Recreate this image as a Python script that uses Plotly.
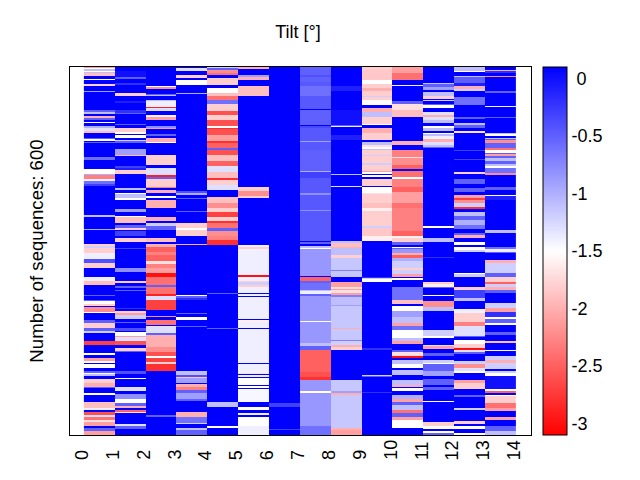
import numpy as np
import plotly.graph_objects as go

N_SEQ = 600
tick_labels = [str(i) for i in range(15)]
cb_vals = [0, -0.5, -1, -1.5, -2, -2.5, -3]
cb_text = ["\u00a00", "-0.5", "-1", "-1.5", "-2", "-2.5", "-3"]

# each column: (last sequence of the run, tilt value)
col_0 = [(2,-2.1),(4,-1.5),(6,-1.1),(8,-1.5),(10,-1.1),(14,-1.9),(20,.1),(22,-1.5),(27,.1),(31,-1.8),(39,.1),(41,-0.9),(70,.1),(73,-0.5),(77,-1.1),(80,.1),(83,-2.0),(87,-0.5),(90,.1),(92,-1.5),(96,.1),(100,-1.0),(104,-1.3),(108,-1.9),(116,.1),(118,-0.5),(120,-1.5),(122,.1),(124,-0.5),(146,.1),(151,-0.6),(167,.1),(174,-1.5),(176,-1.0),(183,-2.3),(186,-1.4),(191,-0.6),(194,-0.3),(241,.1),(244,-1.1),(264,.1),(266,-1.0),(288,.1),(292,-1.8),(295,-1.2),(304,-1.8),(313,-1.4),(319,-0.4),(327,-1.8),(342,.1),(349,-1.4),(355,-1.9),(371,.1),(373,-0.5),(380,.1),(382,-0.5),(386,-1.5),(390,-1.8),(392,.1),(399,-2.2),(401,-1.5),(412,.1),(418,-0.5),(426,-1.8),(431,-0.5),(434,-1.2),(447,.1),(453,-2.7),(456,.1),(457,-1.4),(466,.1),(469,-1.5),(475,.1),(479,-2.1),(483,-1.5),(484,.1),(491,-1.5),(495,.1),(499,-0.5),(501,-1.5),(503,-1.1),(508,.1),(515,-1.8),(521,-2.0),(523,-0.5),(532,.1),(534,-1.5),(547,.1),(556,-1.9),(560,-1.4),(563,.1),(568,-2.6),(571,-1.3),(575,-2.4),(579,-1.7),(586,-2.1),(589,.1),(594,-0.5),(600,-2.1)]
col_1 = [(7,.1),(16,0),(20,-0.5),(26,.1),(29,-0.2),(43,.1),(47,-1.8),(56,.1),(59,-0.1),(70,.1),(75,-0.2),(77,-0.5),(93,.1),(95,-0.5),(99,.1),(106,-1.8),(109,-1.5),(111,.1),(115,-1.5),(119,.1),(121,-1.2),(124,-0.5),(134,.1),(143,-0.9),(145,-1.9),(162,.1),(165,-0.3),(168,-0.1),(175,-1.8),(198,.1),(200,-1.1),(205,.1),(207,-1.5),(214,-1.1),(217,-1.5),(231,.1),(236,-0.9),(243,.1),(245,-1.5),(255,-1.9),(257,.1),(262,-0.5),(266,-1.8),(268,.1),(275,-0.3),(278,.1),(285,-1.8),(288,.1),(295,.1),(297,-0.3),(327,.1),(335,-0.8),(349,.1),(352,-1.8),(357,.1),(360,-0.5),(363,.1),(366,-0.5),(393,.1),(395,-0.2),(398,.1),(401,-1.8),(404,-2.1),(411,-1.2),(415,.1),(417,-0.5),(426,.1),(430,-0.4),(432,.1),(438,-1.5),(441,-2.1),(447,-1.3),(453,-2.6),(458,.1),(463,-1.8),(465,-0.5),(484,.1),(485,-0.5),(495,.1),(501,-0.4),(507,.1),(509,-1.5),(522,.1),(529,-1.3),(533,.1),(542,-0.8),(548,-1.5),(553,-0.5),(556,-2.0),(559,.1),(562,-2.5),(564,-1.7),(582,.1),(586,-1.3),(591,-0.5),(600,.1)]
col_2 = [(31,.1),(33,-1.5),(36,-2.2),(44,.1),(46,-0.5),(48,-1.1),(53,.1),(56,-1.1),(65,-1.4),(67,-2.9),(71,-1.3),(78,.1),(82,-1.4),(86,-2.1),(96,.1),(99,-0.8),(101,-2.1),(109,.1),(112,-0.5),(116,.1),(122,-2.0),(124,-1.5),(143,.1),(160,-1.8),(165,.1),(176,-1.3),(179,-2.9),(183,-0.5),(195,-1.8),(198,-2.3),(201,.1),(206,-2.0),(210,.1),(214,-1.5),(217,.1),(230,-2.0),(245,.1),(251,-2.0),(255,.1),(260,-1.2),(266,-0.5),(279,.1),(285,-1.9),(288,.1),(294,-2.0),(301,-2.5),(306,-2.3),(317,-2.5),(321,-1.7),(328,-2.3),(336,-2.1),(342,-3.0),(355,-2.4),(358,-0.5),(370,-2.4),(373,-2.9),(380,-1.3),(396,-2.7),(406,.1),(408,-2.2),(412,.1),(420,-2.4),(423,.1),(434,-1.3),(437,-0.5),(456,-2.0),(464,-2.2),(471,-2.6),(475,-1.5),(481,-2.7),(485,-1.8),(496,-2.8),(562,.1),(563,-1.2),(568,.1),(570,-0.5),(600,.1)]
col_3 = [(2,.1),(7,-1.3),(13,.1),(18,-1.8),(22,.1),(29,-1.5),(30,-3.0),(42,.1),(44,-1.0),(135,.1),(136,-0.2),(202,.1),(206,-0.4),(208,-1.0),(214,.1),(216,-0.5),(234,.1),(236,-0.5),(254,.1),(263,-1.8),(266,-1.5),(276,-1.8),(288,.1),(290,-2.0),(371,.1),(373,-1.5),(376,-0.5),(380,-0.2),(401,.1),(402,-0.5),(408,.1),(412,-1.5),(422,.1),(424,-0.5),(496,.1),(502,-1.1),(506,-0.4),(507,-1.9),(515,-0.9),(517,.1),(521,-2.0),(527,-2.3),(532,-0.5),(542,-0.9),(545,-0.5),(563,.1),(570,-2.0),(580,-0.6),(582,-1.2),(588,.1),(592,-1.1),(600,-0.5)]
col_4 = [(2,-1.2),(5,-0.5),(9,-2.2),(13,-2.4),(18,.1),(29,-1.8),(35,.1),(43,-1.5),(47,-1.9),(54,-2.4),(60,-0.6),(71,-1.8),(78,-2.6),(86,-1.8),(96,-2.6),(99,-1.5),(101,-2.8),(111,-2.6),(121,-2.1),(124,-2.8),(132,-2.5),(136,-0.5),(143,-2.6),(154,-1.9),(162,-2.5),(171,-1.3),(181,-1.9),(184,-2.8),(192,-1.8),(200,-1.3),(212,.1),(222,-1.9),(230,-2.2),(237,-1.8),(244,-2.7),(251,-1.8),(254,-2.8),(263,-2.4),(268,-0.5),(275,-2.2),(282,-2.3),(290,-2.8),(369,.1),(370,-0.5),(426,.1),(427,-0.5),(547,.1),(554,-1.1),(562,.1),(563,-0.5),(586,.1),(588,-1.5),(600,.1)]
col_5 = [(3,-2.0),(13,.1),(17,-0.9),(22,-2.0),(31,.1),(48,-1.9),(195,.1),(202,-1.8),(210,-2.2),(213,-1.8),(290,.1),(294,-1.4),(297,-1.8),(339,-1.4),(342,-3.0),(349,-1.4),(351,-1.8),(355,-1.2),(358,-1.8),(369,-1.4),(370,.1),(373,-1.4),(375,.1),(411,-1.4),(412,.1),(416,-1.6),(426,-1.4),(427,.1),(471,-1.4),(472,-1.8),(483,-1.4),(484,.1),(499,-1.4),(501,-1.7),(502,.1),(506,-1.4),(507,.1),(518,-1.5),(520,.1),(523,-1.5),(525,.1),(526,-1.5),(547,-1.45),(554,.1),(560,-1.5),(564,.1),(567,-1.4),(570,.1),(585,-1.5),(586,.1),(600,-1.4)]
col_6 = [(135,.1),(136,-0.4),(169,.1),(170,-0.1),(548,.1),(554,-0.3),(591,.1),(592,-0.3),(600,.1)]
col_7 = [(13,-0.5),(16,-0.4),(24,-0.5),(31,-0.45),(48,-0.6),(69,-0.45),(70,.1),(94,-0.5),(96,.1),(99,-0.35),(121,-0.45),(122,-0.9),(135,-0.45),(136,-1.0),(169,-0.5),(172,-1.0),(181,-0.3),(195,-0.45),(206,-0.45),(208,-0.8),(233,-0.45),(234,-0.8),(283,-0.45),(285,.1),(289,-0.5),(292,.1),(295,-1.1),(297,-1.5),(340,-0.85),(342,.1),(349,-2.5),(352,-0.5),(363,-0.6),(366,-1.1),(370,-1.4),(374,-0.5),(414,-0.85),(415,-1.5),(450,-0.85),(455,-1.1),(461,-0.5),(471,-2.5),(472,-2.9),(497,-2.5),(498,-2.9),(505,-2.6),(510,-2.8),(528,-0.85),(532,-1.5),(586,-0.85),(600,-0.6)]
col_8 = [(31,.1),(39,-0.1),(70,.1),(94,0),(96,-0.5),(98,-1.4),(104,.1),(105,-0.5),(111,.1),(119,-0.1),(174,.1),(176,-1.1),(194,.1),(195,-1.3),(283,.1),(287,-1.1),(294,-1.9),(295,-2.0),(307,-1.1),(311,-1.8),(331,-1.15),(333,-0.7),(342,-1.15),(351,.1),(358,-2.1),(362,-1.7),(364,-2.1),(369,-1.7),(371,-2.1),(375,-0.7),(388,-1.1),(390,-0.9),(426,-1.15),(427,-2.0),(445,-1.15),(447,-0.7),(453,-1.2),(457,-2.0),(461,-1.8),(510,.1),(528,-1.15),(532,-0.9),(534,-2.0),(588,-1.15),(592,-2.0),(600,-2.1)]
col_9 = [(5,-1.8),(22,-1.85),(28,-1.5),(35,-1.8),(39,-2.0),(47,-1.8),(49,-1.2),(53,-1.8),(62,-1.5),(67,.1),(73,-2.0),(81,-1.1),(93,-1.8),(95,-1.5),(99,.1),(107,-2.0),(119,-1.8),(122,.1),(127,-1.1),(131,-1.7),(134,-1.5),(136,-1.1),(143,-1.8),(145,-1.2),(156,-1.8),(160,-1.2),(169,-1.8),(172,-2.1),(174,-1.5),(176,.1),(180,-1.5),(183,.1),(194,-1.8),(195,.1),(205,-1.5),(207,-1.7),(222,-1.8),(230,-1.9),(235,-1.6),(260,-1.8),(263,-1.2),(276,-1.85),(283,-1.6),(342,.1),(344,-0.2),(346,-1.2),(351,-1.5),(458,.1),(461,-0.2),(502,.1),(504,-1.2),(506,-0.5),(530,.1),(531,-0.2),(600,.1)]
col_10 = [(9,-2.1),(22,-2.4),(29,.1),(31,-1.4),(47,.1),(48,-2.0),(56,.1),(60,-0.5),(70,-1.7),(81,-1.9),(120,.1),(127,-2.0),(136,.1),(146,-2.3),(149,-1.7),(160,-2.2),(167,-2.5),(169,.1),(179,-2.4),(183,-1.5),(195,-2.3),(203,-2.5),(222,-2.1),(230,-2.4),(255,-2.3),(268,-2.3),(275,-2.5),(279,-1.6),(285,-1.8),(290,-0.5),(293,.1),(295,-1.5),(297,-0.5),(304,-0.85),(306,-2.0),(311,-2.5),(317,-1.0),(327,-1.2),(331,-1.8),(338,-1.2),(342,-2.1),(344,.1),(347,-1.5),(358,.1),(380,-0.6),(387,-1.9),(390,.1),(398,-1.5),(407,-0.9),(418,-1.1),(423,-2.1),(428,-0.6),(442,-1.5),(446,-1.1),(452,-2.1),(461,.1),(465,-0.5),(472,-1.7),(475,-3.0),(477,.1),(484,-1.1),(491,-1.5),(494,.1),(502,-1.1),(510,.1),(518,-1.1),(521,-2.0),(523,.1),(528,-1.5),(534,.1),(542,-1.0),(546,-2.1),(551,-0.5),(559,-1.1),(564,-2.4),(570,-0.5),(575,-2.1),(588,-1.5),(600,.1)]
col_11 = [(26,.1),(28,-1.1),(32,-0.5),(37,-0.9),(41,.1),(47,-1.1),(52,-1.8),(54,.1),(56,-1.2),(60,.1),(62,-0.5),(67,-1.5),(73,.1),(78,-1.3),(81,-2.0),(86,-1.3),(92,-1.1),(96,.1),(99,-1.5),(105,-1.1),(108,.1),(110,-1.5),(113,-1.1),(118,-1.4),(122,-2.0),(127,-1.3),(130,-1.1),(132,-0.5),(260,.1),(262,-1.5),(279,.1),(285,-1.1),(293,.1),(294,-0.5),(309,.1),(311,-0.2),(350,.1),(354,-1.8),(358,-1.6),(361,-0.5),(371,.1),(373,-1.5),(381,.1),(387,-2.2),(392,-2.2),(398,-1.1),(428,.1),(439,-1.2),(442,-1.5),(453,.1),(455,-1.3),(459,-2.1),(466,.1),(472,-0.5),(477,.1),(483,-1.2),(485,-1.5),(495,-0.5),(503,-0.9),(508,.1),(518,-0.5),(522,.1),(527,-0.5),(545,.1),(547,-1.5),(578,.1),(586,-1.8),(590,-1.5),(593,.1),(596,-1.5),(600,-0.5)]
col_12 = [(7,-1.1),(8,-1.5),(15,.1),(17,-1.1),(26,-0.5),(31,-0.1),(36,-2.0),(39,-1.2),(49,.1),(62,-0.6),(82,.1),(84,-0.5),(92,.1),(95,-1.1),(99,-0.5),(105,.1),(107,-1.7),(115,.1),(116,-0.5),(136,.1),(137,-0.3),(150,.1),(151,-0.3),(171,.1),(174,-1.8),(183,.1),(191,-0.5),(198,.1),(203,-0.5),(209,.1),(214,-2.1),(217,-2.7),(221,-2.2),(228,-1.2),(231,-2.8),(236,.1),(243,-1.1),(249,-0.5),(257,-1.0),(264,-0.6),(271,.1),(274,-0.5),(279,-2.0),(285,.1),(290,-1.5),(294,.1),(298,-1.5),(301,-1.2),(336,.1),(338,-1.5),(342,-1.2),(358,.1),(363,-1.8),(377,-0.3),(382,-1.1),(394,.1),(401,-1.4),(415,-1.8),(423,-2.3),(428,-1.3),(438,-1.3),(441,-0.5),(445,.1),(451,-1.5),(458,-1.8),(461,-3.0),(464,-1.3),(468,-0.5),(480,.1),(485,-1.2),(491,-2.2),(495,-1.3),(499,-1.5),(510,.1),(515,-2.1),(525,-1.8),(535,.1),(538,-0.5),(556,.1),(560,-1.2),(577,.1),(582,-1.8),(586,.1),(591,-1.5),(597,.1),(600,-1.5)]
col_13 = [(5,.1),(7,-2.0),(10,-0.2),(15,.1),(16,-2.2),(39,.1),(42,-0.5),(64,.1),(66,-1.4),(81,.1),(83,-0.5),(107,.1),(109,-1.1),(112,-1.5),(115,.1),(117,-1.1),(119,-0.5),(124,-2.2),(132,-0.5),(135,-2.4),(140,-1.5),(142,-0.5),(145,-2.1),(149,-0.5),(153,-1.1),(158,-0.5),(162,-1.1),(165,-1.5),(173,-0.6),(176,-2.2),(195,.1),(200,-0.5),(208,.1),(210,-1.5),(217,-0.1),(266,.1),(270,-1.1),(293,.1),(297,-0.6),(301,-1.4),(304,-0.5),(314,.1),(320,-2.0),(328,-1.2),(336,-1.2),(342,-0.5),(350,-1.8),(354,-2.5),(358,-1.2),(363,-2.0),(369,-0.5),(385,.1),(393,-1.2),(399,-2.1),(407,-0.2),(411,-1.5),(418,-0.5),(420,-1.5),(432,.1),(437,-0.5),(446,.1),(450,-1.9),(461,.1),(463,-1.5),(472,.1),(477,-1.2),(483,-2.0),(492,-1.2),(496,.1),(499,-1.2),(504,-1.5),(525,0),(528,-1.5),(532,-2.5),(534,.1),(537,-1.5),(548,-1.8),(556,-2.4),(561,-2.1),(570,.1),(575,-2.1),(586,.1),(594,-0.5),(600,-1.1)]

columns = [col_0, col_1, col_2, col_3, col_4, col_5, col_6, col_7,
           col_8, col_9, col_10, col_11, col_12, col_13]

z = np.full((N_SEQ, len(columns)), 0.1)
for j, col in enumerate(columns):
    start = 0
    for end, val in col:
        z[start:end, j] = val
        start = end

fig = go.Figure(go.Heatmap(
    z=z,
    x=np.arange(len(columns) + 1),
    y=np.arange(N_SEQ + 1),
    zmin=-3.1, zmax=0.1,
    colorscale=[[0, "#ff0000"], [0.5, "#ffffff"], [1, "#0000ff"]],
    hoverinfo="skip",
    colorbar=dict(
        x=(543 - 70) / 461, xanchor="left", y=0.5, yanchor="middle",
        len=1.0, lenmode="fraction", thickness=24, thicknessmode="pixels",
        outlinewidth=1, outlinecolor="black", ticks="", ticklabelposition="outside",
        tickmode="array", tickvals=cb_vals, ticktext=cb_text,
        tickfont=dict(family="Liberation Sans", size=18, color="black"), xpad=0, ypad=0,
    ),
))

annotations = [
    dict(text=t, x=i, xref="x", y=-27 / 368, yref="paper", xshift=-2,
         yanchor="bottom", xanchor="center", textangle=-90, showarrow=False,
         font=dict(family="Liberation Sans", size=18, color="black"))
    for i, t in enumerate(tick_labels)
]

# the page body adds an 8 px offset, so the figure is sized 632x472
fig.update_layout(
    width=632, height=472, margin=dict(l=62, r=109, t=59, b=45),
    paper_bgcolor="white", plot_bgcolor="white",
    font=dict(family="Liberation Sans", size=18, color="black"),
    title=dict(text="Tilt [°]", x=290 / 632, xanchor="center", y=1 - 24 / 472, yanchor="middle",
               font=dict(family="Liberation Sans", size=18, color="black")),
    xaxis=dict(range=[-0.45, 14.48], showgrid=False, zeroline=False, ticks="",
               showticklabels=False, showline=True, mirror=True, linecolor="black", linewidth=1),
    yaxis=dict(range=[N_SEQ, 0], showgrid=False, zeroline=False, ticks="",
               showticklabels=False, showline=True, mirror=True, linecolor="black", linewidth=1,
               title=dict(text="Number of sequences: 600", standoff=20,
                          font=dict(family="Liberation Sans", size=18.6, color="black"))),
    annotations=annotations,
)
fig.write_html("out.html")
